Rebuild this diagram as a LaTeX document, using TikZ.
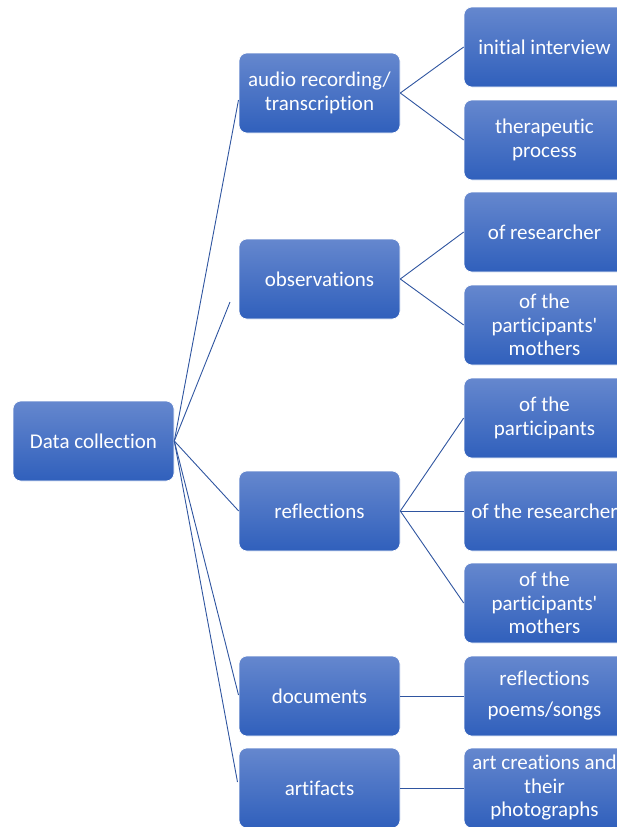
\documentclass[tikz,border=0pt]{standalone}
\usepackage{fontspec}
\setmainfont{Carlito}[Ligatures={NoCommon,TeX}]
\definecolor{boxtop}{RGB}{101,135,206}
\definecolor{boxbot}{RGB}{48,96,188}
\definecolor{linkblue}{RGB}{47,85,160}
\tikzset{
  databox/.style={rounded corners=8pt, top color=boxtop, bottom color=boxbot,
    draw=white, line width=0.6pt, minimum width=161pt, minimum height=80pt,
    text=white, align=center, inner sep=2pt,
    font=\fontsize{21}{23.5}\selectfont},
  link/.style={draw=linkblue, line width=0.9pt}
}
\begin{document}
\begin{tikzpicture}[x=1pt,y=-1pt]
\useasboundingbox (0,0) rectangle (616,827);
\node[databox] (dc) at (93.5,441) {Data collection};
\node[databox] (audio) at (319.5,93) {audio recording/\\transcription};
\node[databox] (obs) at (319.5,279) {observations};
\node[databox] (refl) at (319.5,511) {reflections};
\node[databox] (docs) at (319.5,696) {documents};
\node[databox] (art) at (319.5,788) {artifacts};
\node[databox] (ii) at (544.5,47) {initial interview};
\node[databox] (tp) at (544.5,140) {therapeutic\\process};
\node[databox] (or) at (544.5,232) {of researcher};
\node[databox] (opm) at (544.5,325) {of the\\participants\textquotesingle\\mothers};
\node[databox] (op) at (544.5,418) {of the\\participants};
\node[databox] (otr) at (544.5,511) {of the researcher};
\node[databox] (opm2) at (544.5,603) {of the\\participants\textquotesingle\\mothers};
\node[databox, font=\fontsize{21}{31}\selectfont] (rps) at (544.5,696) {reflections\\poems/songs};
\node[databox] (acp) at (544.5,788) {art creations and\\their\\photographs};
\coordinate (audioend) at (238.5,100);
\coordinate (obsend) at (230,302);
\coordinate (docsend) at (238.5,695);
\coordinate (artend) at (237.5,782);
\draw[link] (dc.east) -- (audioend);
\draw[link] (dc.east) -- (obsend);
\draw[link] (dc.east) -- (refl.west);
\draw[link] (dc.east) -- (docsend);
\draw[link] (dc.east) -- (artend);
\draw[link] (audio.east) -- (ii.west);
\draw[link] (audio.east) -- (tp.west);
\draw[link] (obs.east) -- (or.west);
\draw[link] (obs.east) -- (opm.west);
\draw[link] (refl.east) -- (op.west);
\draw[link] (refl.east) -- (otr.west);
\draw[link] (refl.east) -- (opm2.west);
\draw[link] (docs.east) -- (rps.west);
\draw[link] (art.east) -- (acp.west);
\end{tikzpicture}
\end{document}
